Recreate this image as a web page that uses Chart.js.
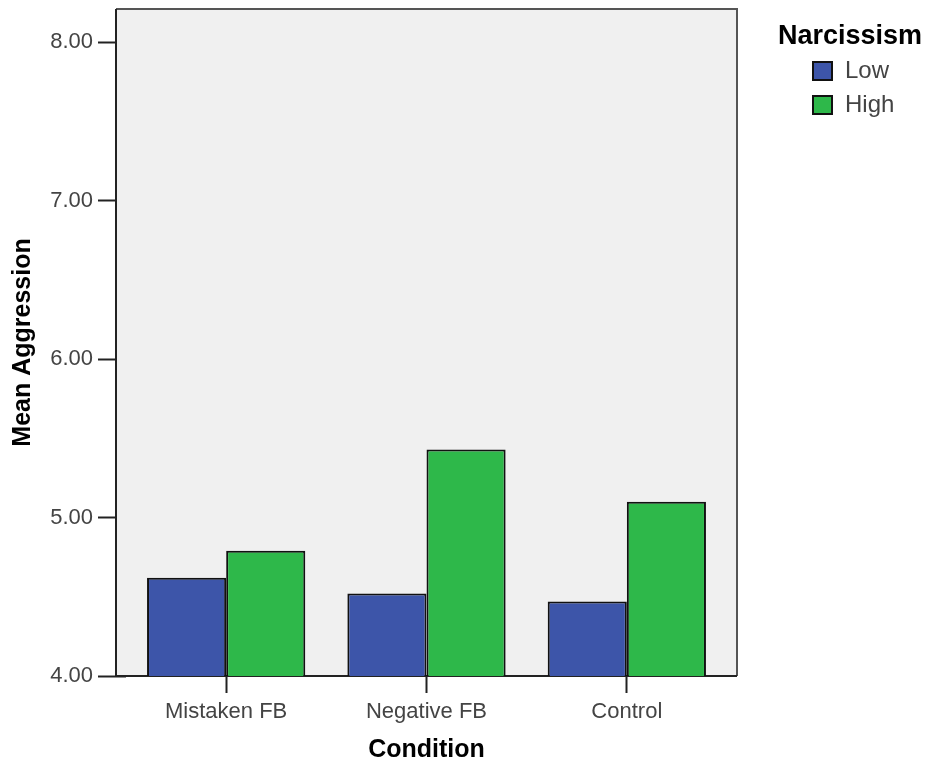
<!DOCTYPE html>
<html>
<head>
<meta charset="utf-8">
<script src="https://cdn.jsdelivr.net/npm/chart.js@4"></script>
<style>
  html, body { margin: 0; padding: 0; background: #fff; }
  #wrap { width: 931px; height: 763px; }
</style>
</head>
<body>
<div id="wrap"><canvas id="chart" width="931" height="763"></canvas></div>
<script>
// Data
const conditions = ['Mistaken FB', 'Negative FB', 'Control'];
const groupNames = ['Low', 'High'];
const lowValues = [4.62, 4.52, 4.47];
const highValues = [4.79, 5.43, 5.10];
const yTicks = [4, 5, 6, 7, 8];

const blue = '#3d55a9';
const green = '#2eb84a';
const FONT = 'Liberation Sans, Arial, sans-serif';

// Plot frame: a bit wider than the chart area, like the original
const framePlugin = {
    id: 'frame',
    beforeDatasetsDraw(chart) {
        const ctx = chart.ctx;
        const a = chart.chartArea;
        const left = a.left - 10, right = a.right + 10;
        ctx.save();
        ctx.fillStyle = '#f0f0f0';
        ctx.fillRect(left, a.top, right - left, a.bottom - a.top);
        ctx.lineWidth = 2;
        ctx.strokeStyle = '#555';
        ctx.beginPath();
        ctx.moveTo(left, a.top);
        ctx.lineTo(right, a.top);
        ctx.lineTo(right, a.bottom);
        ctx.stroke();
        ctx.strokeStyle = '#222';
        ctx.beginPath();
        ctx.moveTo(left, a.top);
        ctx.lineTo(left, a.bottom);
        ctx.lineTo(right, a.bottom);
        ctx.stroke();
        ctx.restore();
    }
};

// Legend drawn at the right, SPSS style
const legendPlugin = {
    id: 'sideLegend',
    afterDraw(chart) {
        const ctx = chart.ctx;
        ctx.save();
        ctx.fillStyle = '#000';
        ctx.font = 'bold 27px ' + FONT;
        ctx.textBaseline = 'middle';
        ctx.textAlign = 'left';
        ctx.fillText('Narcissism', 778, 37);
        chart.data.datasets.forEach((ds, i) => {
            const y = 71 + i * 34;
            ctx.fillStyle = ds.backgroundColor;
            ctx.fillRect(813, y - 9, 19, 18);
            ctx.lineWidth = 2;
            ctx.strokeStyle = '#111';
            ctx.strokeRect(813, y - 9, 19, 18);
            ctx.fillStyle = '#444';
            ctx.font = '24px ' + FONT;
            ctx.fillText(ds.label, 845, y);
        });
        ctx.restore();
    }
};

const ctx = document.getElementById('chart').getContext('2d');
new Chart(ctx, {
    type: 'bar',
    data: {
        labels: conditions,
        datasets: [{
            label: groupNames[0],
            data: lowValues,
            backgroundColor: blue,
            borderColor: '#111',
            borderWidth: 2
        }, {
            label: groupNames[1],
            data: highValues,
            backgroundColor: green,
            borderColor: '#111',
            borderWidth: 2
        }]
    },
    options: {
        responsive: false,
        animation: false,
        layout: {
            padding: { left: 0, top: 9, right: 204, bottom: 0 }
        },
        datasets: {
            bar: {
                categoryPercentage: 0.79,
                barPercentage: 1.0
            }
        },
        plugins: {
            legend: { display: false },
            tooltip: { enabled: false }
        },
        scales: {
            x: {
                offset: true,
                afterFit: function(scale) {
                    scale.height = 87;
                    scale.paddingLeft = 0;
                    scale.paddingRight = 0;
                },
                grid: {
                    offset: false,
                    drawOnChartArea: false,
                    tickLength: 17,
                    tickColor: '#222',
                    tickWidth: 2
                },
                border: { display: false },
                ticks: {
                    color: '#444',
                    padding: 6,
                    font: { family: FONT, size: 22 }
                },
                title: {
                    display: true,
                    text: 'Condition',
                    color: '#000',
                    padding: { top: 0, bottom: 3 },
                    font: { family: FONT, size: 25, weight: 'bold', lineHeight: 0.8 }
                }
            },
            y: {
                min: 4,
                max: 8.21,
                afterFit: function(scale) {
                    scale.width = 126;
                    scale.paddingTop = 0;
                    scale.paddingBottom = 0;
                },
                afterBuildTicks: function(scale) {
                    scale.ticks = yTicks.map(v => ({ value: v }));
                },
                grid: {
                    drawOnChartArea: false,
                    tickLength: 28,
                    tickColor: '#222',
                    tickWidth: 2
                },
                border: { display: false },
                ticks: {
                    color: '#444',
                    padding: 5,
                    font: { family: FONT, size: 22 },
                    callback: function(value) { return Number(value).toFixed(2); }
                },
                title: {
                    display: true,
                    text: 'Mean Aggression',
                    color: '#000',
                    padding: { top: 11, bottom: 0 },
                    font: { family: FONT, size: 25, weight: 'bold', lineHeight: 1 }
                }
            }
        }
    },
    plugins: [framePlugin, legendPlugin]
});
</script>
</body>
</html>
